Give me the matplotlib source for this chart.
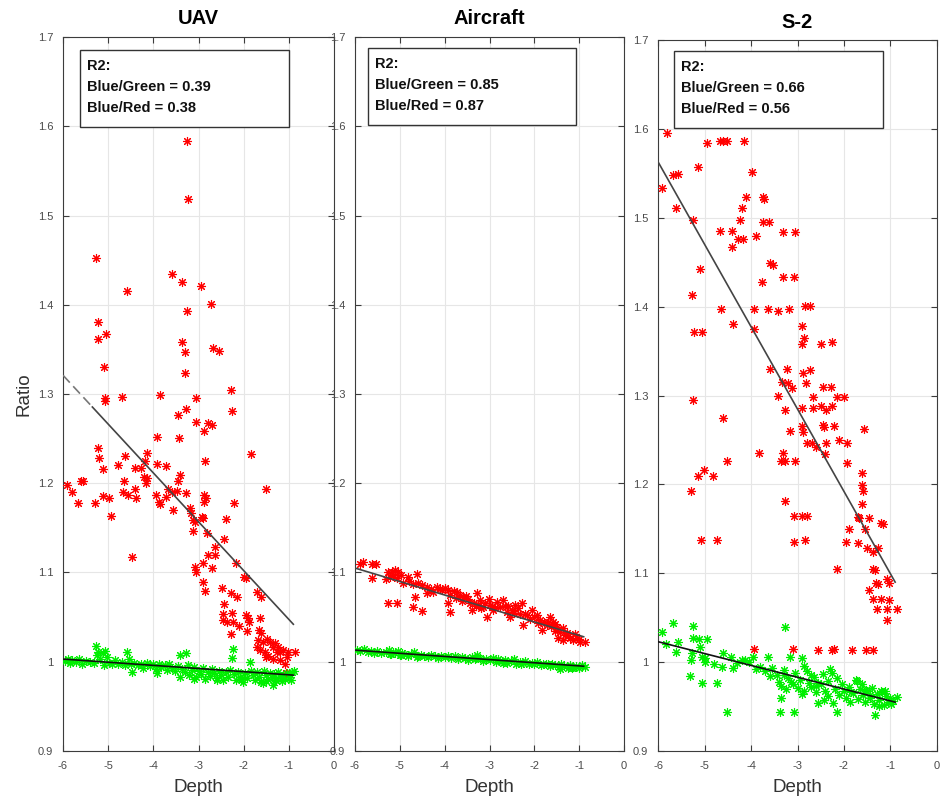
import matplotlib
matplotlib.use("Agg")
import matplotlib.pyplot as plt
from matplotlib.patches import Rectangle
import numpy as np

plt.rcParams['font.family'] = ['Liberation Sans', 'DejaVu Sans']
plt.rcParams['axes.unicode_minus'] = False

# ---------------- DATA ----------------
titles = ["UAV", "Aircraft", "S-2"]
r2_green = ["0.39", "0.85", "0.66"]
r2_red = ["0.38", "0.87", "0.56"]
x_ticks = [-6, -5, -4, -3, -2, -1, 0]
y_ticks = [0.9, 1.0, 1.1, 1.2, 1.3, 1.4, 1.5, 1.6, 1.7]
y_tick_labels = ["0.9", "1", "1.1", "1.2", "1.3", "1.4", "1.5", "1.6", "1.7"]

uav_red_x = [-3.26, -3.23, -5.27, -3.59, -3.37, -2.95, -4.58, -2.73, -3.26, -5.23, -5.05, -5.23, -3.37, -2.68, -3.30,
             -2.55, -5.09, -3.30, -2.28, -5.07, -4.70, -3.85, -3.06, -5.07, -3.28, -2.26, -3.46, -3.06, -2.79, -2.70,
             -2.88, -3.92, -3.43, -5.23, -5.20, -4.63, -4.14, -1.84, -4.19, -3.92, -3.72, -2.86, -4.78, -5.12, -4.41,
             -4.27, -5.91, -5.80, -5.60, -5.56, -5.67, -5.29, -5.12, -4.98, -4.94, -4.65, -4.67, -4.56, -4.38, -4.41,
             -4.21, -4.14, -4.16, -3.94, -3.88, -3.85, -3.72, -3.68, -3.59, -3.48, -3.41, -3.46, -3.57, -3.28, -3.19,
             -3.17, -3.12, -3.08, -3.12, -2.92, -2.90, -2.88, -2.84, -2.88, -2.81, -2.39, -2.22, -2.44, -2.64, -2.64,
             -2.79, -2.90, -3.08, -3.06, -2.70, -2.17, -2.00, -1.95, -1.51, -2.90, -2.86, -2.48, -2.28, -2.15, -1.71,
             -1.62, -2.44, -2.46, -2.46, -2.37, -2.26, -2.24, -2.11, -1.95, -1.91, -1.88, -1.93, -2.28, -1.64, -1.66,
             -1.62, -1.69, -1.58, -1.49, -1.71, -1.64, -1.42, -1.31, -1.24, -1.35, -1.27, -1.20, -1.53, -1.46, -1.35,
             -1.13, -1.02, -1.04, -0.87, -1.20, -1.09, -1.07, -1.51, -4.47]
uav_red_y = [1.583, 1.518, 1.452, 1.435, 1.425, 1.421, 1.415, 1.401, 1.393, 1.381, 1.367, 1.362, 1.358, 1.352, 1.347,
             1.348, 1.330, 1.324, 1.304, 1.296, 1.297, 1.299, 1.295, 1.292, 1.283, 1.281, 1.276, 1.269, 1.267, 1.265,
             1.259, 1.252, 1.251, 1.240, 1.228, 1.230, 1.234, 1.233, 1.225, 1.222, 1.219, 1.225, 1.221, 1.216, 1.217,
             1.217, 1.198, 1.190, 1.202, 1.202, 1.178, 1.178, 1.186, 1.184, 1.163, 1.202, 1.190, 1.187, 1.183, 1.193,
             1.207, 1.206, 1.200, 1.187, 1.179, 1.177, 1.185, 1.193, 1.190, 1.191, 1.209, 1.202, 1.170, 1.189, 1.172,
             1.167, 1.159, 1.157, 1.147, 1.162, 1.161, 1.187, 1.183, 1.179, 1.144, 1.160, 1.178, 1.137, 1.129, 1.120,
             1.120, 1.111, 1.106, 1.100, 1.105, 1.111, 1.095, 1.094, 1.194, 1.089, 1.079, 1.083, 1.077, 1.073, 1.078,
             1.073, 1.065, 1.054, 1.047, 1.045, 1.055, 1.044, 1.040, 1.052, 1.049, 1.044, 1.035, 1.031, 1.049, 1.036,
             1.032, 1.024, 1.022, 1.026, 1.017, 1.013, 1.022, 1.021, 1.017, 1.016, 1.011, 1.011, 1.011, 1.007, 1.003,
             1.013, 1.011, 1.005, 1.011, 1.002, 0.998, 0.987, 1.005, 1.117]

uav_green_x = [-5.95, -5.90, -5.85, -5.80, -5.72, -5.65, -5.58, -5.50, -5.40, -5.32, -5.27, -5.25, -5.22, -5.18, -5.12,
               -5.10, -5.06, -5.03, -4.98, -4.92, -4.85, -4.78, -4.70, -4.62, -4.58, -4.54, -4.50, -4.47, -4.42, -4.35,
               -4.28, -4.22, -4.15, -4.08, -4.00, -3.94, -3.92, -3.88, -3.82, -3.75, -3.70, -3.65, -3.58, -3.52, -3.46,
               -3.41, -3.36, -3.30, -3.28, -3.24, -3.20, -3.15, -3.10, -3.05, -3.00, -2.95, -2.90, -2.85, -2.80, -2.75,
               -2.70, -2.65, -2.60, -2.55, -2.50, -2.45, -2.40, -2.35, -2.30, -2.26, -2.24, -2.22, -2.18, -2.12, -2.08,
               -2.02, -1.98, -1.92, -1.86, -1.84, -1.80, -1.75, -1.70, -1.66, -1.62, -1.58, -1.55, -1.50, -1.46, -1.42,
               -1.38, -1.35, -1.32, -1.28, -1.24, -1.20, -1.16, -1.12, -1.08, -1.04, -1.00, -0.96, -0.92, -0.88,
               -3.40, -3.10, -2.60, -2.05, -1.50, -1.30]
uav_green_y = [1.001, 1.003, 0.999, 1.002, 1.000, 1.003, 0.998, 1.001, 1.000, 0.999, 1.018, 1.008, 1.011, 1.003, 1.010,
               0.996, 1.012, 1.005, 0.999, 0.997, 1.002, 0.998, 1.000, 0.996, 1.011, 1.003, 0.997, 0.989, 0.999, 0.996,
               0.998, 0.993, 0.999, 0.995, 0.997, 0.992, 0.987, 0.998, 0.994, 0.996, 0.991, 0.997, 0.993, 0.990, 0.995,
               1.008, 0.992, 0.988, 1.010, 0.996, 0.985, 0.991, 0.994, 0.983, 0.990, 0.986, 0.993, 0.981, 0.989, 0.984,
               0.992, 0.987, 0.982, 0.990, 0.985, 0.980, 0.988, 0.983, 0.991, 1.004, 1.014, 0.986, 0.979, 0.989, 0.983,
               0.977, 0.987, 0.982, 1.000, 0.990, 0.985, 0.979, 0.988, 0.983, 0.977, 0.976, 0.990, 0.985, 0.981, 0.987,
               0.983, 0.974, 0.986, 0.980, 0.988, 0.983, 0.978, 0.985, 0.981, 0.987, 0.983, 0.979, 0.988, 0.990,
               0.983, 0.981, 0.979, 0.981, 0.978, 0.980]

air_red_x = [-5.89, -5.82, -5.62, -5.53, -5.62, -5.31, -5.26, -5.22, -5.17, -5.11, -5.06, -5.04, -4.98, -4.93, -4.82,
             -4.62, -5.26, -5.06, -4.66, -4.71, -4.51, -4.59, -4.50, -4.39, -4.39, -4.17, -4.10, -4.06, -4.26, -3.93,
             -3.88, -3.93, -3.88, -3.80, -3.72, -3.66, -3.59, -3.52, -3.43, -3.39, -3.28, -3.21, -3.14, -3.06, -3.30,
             -3.20, -3.10, -3.02, -2.99, -2.92, -2.83, -2.77, -2.70, -2.66, -2.61, -2.54, -2.50, -2.43, -2.36, -2.27,
             -2.31, -2.25, -2.16, -2.10, -2.05, -1.94, -1.87, -1.83, -1.78, -1.72, -1.65, -1.58, -1.53, -1.49, -1.43,
             -1.36, -1.47, -1.36, -1.27, -1.20, -1.14, -1.05, -0.98, -0.87, -1.10, -1.32, -4.80, -4.70, -3.99, -3.62,
             -3.48, -3.35, -2.88, -2.58, -2.20, -2.00, -1.92, -1.62, -1.55, -5.15, -4.30, -3.75, -3.25, -2.95, -2.45,
             -1.70, -1.25, -1.00]
air_red_y = [1.109, 1.112, 1.109, 1.110, 1.094, 1.093, 1.101, 1.095, 1.100, 1.103, 1.094, 1.100, 1.097, 1.088, 1.095,
             1.098, 1.066, 1.066, 1.073, 1.061, 1.057, 1.088, 1.086, 1.084, 1.077, 1.084, 1.081, 1.080, 1.078, 1.080,
             1.075, 1.066, 1.056, 1.079, 1.078, 1.075, 1.072, 1.074, 1.066, 1.058, 1.077, 1.069, 1.061, 1.050, 1.062,
             1.060, 1.066, 1.070, 1.064, 1.058, 1.067, 1.061, 1.069, 1.063, 1.056, 1.050, 1.058, 1.064, 1.060, 1.066,
             1.053, 1.041, 1.052, 1.048, 1.058, 1.052, 1.047, 1.036, 1.045, 1.041, 1.050, 1.045, 1.042, 1.039, 1.033,
             1.038, 1.027, 1.024, 1.032, 1.027, 1.024, 1.027, 1.022, 1.022, 1.031, 1.030, 1.090, 1.087, 1.083, 1.068,
             1.070, 1.066, 1.060, 1.062, 1.054, 1.050, 1.043, 1.040, 1.035, 1.097, 1.082, 1.071, 1.064, 1.063, 1.055,
             1.044, 1.029, 1.026]

air_green_x = [-5.95, -5.88, -5.80, -5.72, -5.65, -5.58, -5.50, -5.42, -5.30, -5.25, -5.20, -5.15, -5.10, -5.05, -5.00,
               -4.95, -4.90, -4.82, -4.75, -4.68, -4.60, -4.52, -4.45, -4.38, -4.30, -4.22, -4.15, -4.08, -4.00, -3.92,
               -3.85, -3.78, -3.70, -3.62, -3.55, -3.48, -3.40, -3.33, -3.28, -3.22, -3.15, -3.08, -3.00, -2.93, -2.86,
               -2.80, -2.73, -2.66, -2.60, -2.53, -2.46, -2.40, -2.33, -2.26, -2.20, -2.13, -2.06, -2.00, -1.93, -1.86,
               -1.80, -1.73, -1.66, -1.60, -1.53, -1.46, -1.40, -1.33, -1.26, -1.20, -1.13, -1.06, -1.00, -0.93, -0.88,
               -5.22, -4.97, -4.62, -3.30, -2.70, -2.30, -1.70, -1.42, -1.15]
air_green_y = [1.013, 1.012, 1.014, 1.011, 1.012, 1.010, 1.012, 1.010, 1.011, 1.013, 1.009, 1.011, 1.010, 1.012, 1.008,
               1.010, 1.009, 1.007, 1.009, 1.011, 1.006, 1.008, 1.007, 1.005, 1.008, 1.006, 1.004, 1.007, 1.005, 1.006,
               1.004, 1.006, 1.003, 1.005, 1.004, 1.002, 1.005, 1.003, 1.008, 1.004, 1.001, 1.003, 1.002, 1.004, 1.000,
               1.003, 1.001, 1.002, 0.999, 1.001, 1.003, 0.998, 1.000, 0.999, 1.001, 0.997, 0.999, 0.998, 1.000, 0.996,
               0.998, 0.997, 0.995, 0.997, 0.996, 0.994, 0.997, 0.995, 0.993, 0.996, 0.994, 0.995, 0.993, 0.996, 0.994,
               1.009, 1.008, 1.005, 1.004, 0.999, 0.997, 0.998, 0.992, 0.993]

s2_red_x = [-5.81, -4.95, -4.67, -4.60, -4.52, -4.15, -5.14, -5.68, -5.57, -3.98, -5.91, -4.11, -3.74, -3.72, -5.61,
            -4.19, -5.25, -4.24, -3.74, -3.61, -4.67, -4.41, -3.31, -3.05, -4.28, -4.17, -3.89, -4.41, -3.59, -3.53,
            -5.10, -3.31, -3.08, -3.76, -5.27, -4.65, -3.94, -3.63, -3.41, -3.18, -2.84, -2.73, -4.39, -5.23, -5.05,
            -3.94, -2.90, -2.86, -2.90, -2.49, -2.26, -3.59, -3.23, -2.88, -2.73, -3.33, -3.20, -3.12, -2.82, -2.45,
            -2.28, -5.25, -3.42, -2.67, -2.15, -2.00, -3.27, -2.90, -2.67, -2.49, -2.39, -2.26, -4.60, -3.16, -2.90,
            -2.88, -2.45, -2.43, -2.22, -1.57, -2.80, -2.69, -2.60, -2.39, -2.11, -1.94, -2.41, -3.83, -3.31, -4.52,
            -3.35, -3.27, -3.05, -1.94, -5.01, -5.14, -4.82, -1.61, -5.29, -1.61, -1.59, -3.27, -1.61, -3.08, -2.90,
            -2.80, -1.70, -1.68, -1.46, -1.20, -1.16, -1.89, -1.55, -5.08, -4.73, -3.08, -2.84, -1.96, -1.70, -1.51,
            -1.38, -1.27, -2.15, -1.38, -1.33, -1.31, -1.27, -1.08, -1.03, -1.46, -1.38, -1.20, -1.03, -1.29, -1.08,
            -0.86, -1.08, -3.94, -3.10, -2.56, -2.26, -2.21, -1.83, -1.53, -1.38]
s2_red_y = [1.595, 1.584, 1.586, 1.586, 1.586, 1.586, 1.557, 1.548, 1.549, 1.551, 1.533, 1.523, 1.523, 1.521, 1.511,
            1.511, 1.497, 1.497, 1.495, 1.495, 1.485, 1.485, 1.484, 1.484, 1.476, 1.476, 1.479, 1.467, 1.449, 1.447,
            1.442, 1.433, 1.433, 1.428, 1.413, 1.397, 1.397, 1.397, 1.395, 1.397, 1.401, 1.401, 1.381, 1.372, 1.372,
            1.375, 1.378, 1.365, 1.358, 1.358, 1.360, 1.330, 1.330, 1.325, 1.329, 1.315, 1.314, 1.308, 1.314, 1.310,
            1.310, 1.295, 1.300, 1.298, 1.298, 1.298, 1.284, 1.286, 1.286, 1.288, 1.284, 1.288, 1.275, 1.260, 1.266,
            1.259, 1.267, 1.264, 1.266, 1.262, 1.246, 1.246, 1.242, 1.246, 1.250, 1.246, 1.234, 1.235, 1.235, 1.226,
            1.226, 1.226, 1.226, 1.224, 1.216, 1.209, 1.209, 1.213, 1.192, 1.199, 1.192, 1.181, 1.178, 1.164, 1.164,
            1.164, 1.163, 1.162, 1.162, 1.157, 1.155, 1.150, 1.150, 1.137, 1.137, 1.135, 1.137, 1.135, 1.134, 1.128,
            1.124, 1.128, 1.105, 1.105, 1.104, 1.089, 1.088, 1.093, 1.089, 1.081, 1.071, 1.071, 1.070, 1.060, 1.060,
            1.060, 1.047, 1.015, 1.015, 1.014, 1.014, 1.015, 1.014, 1.014, 1.014]

s2_green_x = [-5.91, -5.68, -5.25, -3.27, -5.25, -5.12, -4.95, -5.57, -5.83, -5.10, -5.61, -5.27, -5.05, -4.99, -4.60,
              -4.43, -4.19, -4.13, -3.96, -3.63, -3.16, -2.90, -4.62, -4.39, -5.31, -5.05, -4.73, -4.52, -3.38, -3.08,
              -1.33, -2.15, -2.56, -2.43, -2.24, -1.87, -0.86, -5.30, -5.00, -4.80, -4.30, -4.05, -3.90, -3.80, -3.70,
              -3.55, -3.45, -3.40, -3.35, -3.30, -3.25, -3.20, -3.10, -3.05, -3.00, -2.95, -2.85, -2.80, -2.75, -2.70,
              -2.65, -2.60, -2.50, -2.45, -2.40, -2.35, -2.30, -2.20, -2.10, -2.05, -2.00, -1.95, -1.90, -1.80, -1.75,
              -1.70, -1.65, -1.60, -1.55, -1.50, -1.45, -1.40, -1.35, -1.30, -1.25, -1.20, -1.15, -1.10, -1.05, -1.00,
              -0.95, -3.35, -3.15, -2.90, -2.70, -2.55, -2.35, -2.15, -1.85, -1.62, -1.45, -1.25, -1.12, -0.98, -3.60,
              -3.30, -2.85, -2.60, -2.25, -1.72, -1.52, -1.18]
s2_green_y = [1.034, 1.044, 1.041, 1.040, 1.027, 1.026, 1.026, 1.023, 1.020, 1.017, 1.011, 1.010, 1.006, 1.005, 1.010,
              1.006, 1.002, 1.002, 1.006, 1.006, 1.006, 1.005, 0.995, 0.993, 0.984, 0.977, 0.977, 0.944, 0.944, 0.944,
              0.940, 0.944, 0.954, 0.957, 0.954, 0.955, 0.961, 1.002, 1.000, 0.998, 0.999, 1.000, 0.992, 0.995, 0.990,
              0.993, 0.986, 0.978, 0.973, 0.985, 0.970, 0.982, 0.975, 0.988, 0.971, 0.980, 0.968, 0.990, 0.976, 0.972,
              0.983, 0.966, 0.975, 0.987, 0.968, 0.979, 0.992, 0.970, 0.963, 0.975, 0.968, 0.960, 0.972, 0.965, 0.980,
              0.958, 0.970, 0.963, 0.955, 0.967, 0.960, 0.971, 0.953, 0.964, 0.957, 0.968, 0.952, 0.962, 0.955, 0.960,
              0.956, 0.960, 0.978, 0.964, 0.985, 0.977, 0.962, 0.982, 0.966, 0.975, 0.963, 0.951, 0.967, 0.953, 0.984,
              0.991, 0.996, 0.973, 0.988, 0.979, 0.969, 0.966]

# fitted regression lines (endpoints)
fit_red_x = [[-6.0, -0.9], [-6.0, -0.9], [-6.0, -0.9]]
fit_red_y = [[1.321, 1.042], [1.105, 1.028], [1.563, 1.090]]
fit_green_x = [[-6.0, -0.9], [-6.0, -0.9], [-6.0, -0.9]]
fit_green_y = [[1.003, 0.985], [1.013, 0.995], [1.023, 0.955]]

red_x = [uav_red_x, air_red_x, s2_red_x]
red_y = [uav_red_y, air_red_y, s2_red_y]
green_x = [uav_green_x, air_green_x, s2_green_x]
green_y = [uav_green_y, air_green_y, s2_green_y]

# ---------------- LAYOUT ----------------
W, H = 940, 802
fig = plt.figure(figsize=(W / 100, H / 100), dpi=100)
ax_px = [(63, 37, 334, 751), (355, 37, 624, 751), (658, 40, 937, 751)]
box_px = [(80, 50, 289, 127), (368, 48, 576, 125), (674, 51, 883, 128)]

tick_col = '#4a4a4a'
spine_col = '#3c3c3c'
asterisk = (8, 2, 0)

for i in range(3):
    l, t, r, b = ax_px[i]
    ax = fig.add_axes([l / W, 1 - b / H, (r - l) / W, (b - t) / H])
    ax.set_xlim(-6, 0)
    ax.set_ylim(0.9, 1.7)
    ax.set_xticks(x_ticks)
    ax.set_xticklabels([str(v) for v in x_ticks])
    ax.set_yticks(y_ticks)
    ax.set_yticklabels(y_tick_labels)
    ax.grid(True, color='#e6e6e6', linewidth=0.8)
    ax.set_axisbelow(True)
    ax.tick_params(direction='in', length=4, width=0.8, colors=spine_col, labelcolor=tick_col,
                   labelsize=8, top=True, right=True)
    ax.tick_params(axis='x', pad=7)
    ax.tick_params(axis='y', pad=7)
    for s in ax.spines.values():
        s.set_color(spine_col)
        s.set_linewidth(0.8)

    ax.plot(red_x[i], red_y[i], linestyle='none', marker=asterisk, markersize=6.5,
            markeredgewidth=0.8, color='#ff0000', zorder=3)
    ax.plot(green_x[i], green_y[i], linestyle='none', marker=asterisk, markersize=6.5,
            markeredgewidth=0.8, color='#00ee00', zorder=3)

    ax.plot(fit_green_x[i], fit_green_y[i], color='#111111', linewidth=1.2, zorder=4)
    if i == 0:
        xs = np.array(fit_red_x[i]); ys = np.array(fit_red_y[i])
        xm = -5.35
        ym = np.interp(xm, xs, ys)
        ax.plot([xs[0], xm], [ys[0], ym], color='#777777', linewidth=1.2, linestyle=(0, (6, 3)), zorder=4)
        ax.plot([xm, xs[1]], [ym, ys[1]], color='#444444', linewidth=1.2, zorder=4)
    else:
        ax.plot(fit_red_x[i], fit_red_y[i], color='#444444', linewidth=1.2, zorder=4)

    ax.set_title(titles[i], fontsize=14.5, fontweight='bold', pad=9, color='#000000')
    ax.set_xlabel('Depth', fontsize=13.5, color='#333333', labelpad=6)
    if i == 0:
        ax.set_ylabel('Ratio', fontsize=13.5, color='#333333', labelpad=4)

    # R2 annotation box
    bl, bt, br, bb = box_px[i]
    w = r - l; h = b - t
    bx0 = (bl - l) / w; bx1 = (br - l) / w
    by0 = (b - bb) / h; by1 = (b - bt) / h
    ax.add_patch(Rectangle((bx0, by0), bx1 - bx0, by1 - by0, transform=ax.transAxes,
                           facecolor='white', edgecolor='#333333', linewidth=1.0, zorder=5))
    tx = bx0 + 7 / w
    lines = ["R2:", "Blue/Green = " + r2_green[i], "Blue/Red = " + r2_red[i]]
    for k, s in enumerate(lines):
        ty = (b - (bt + 16 + 21 * k)) / h
        ax.text(tx, ty, s, transform=ax.transAxes, fontsize=10.5, fontweight='bold',
                va='center', ha='left', color='#111111', zorder=6)

fig.savefig('out.png', dpi=100)
